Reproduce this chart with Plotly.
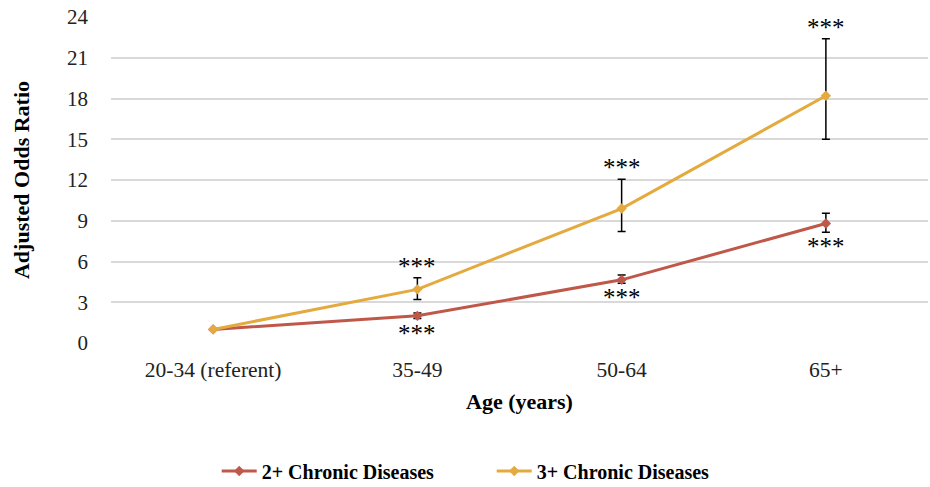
import plotly.graph_objects as go

categories = ["20-34 (referent)", "35-49", "50-64", "65+"]
two_plus = [1.0, 2.0, 4.65, 8.8]
two_plus_hi = [None, 2.2, 5.0, 9.55]
two_plus_lo = [None, 1.8, 4.4, 8.15]
three_plus = [1.0, 3.95, 9.9, 18.2]
three_plus_hi = [None, 4.8, 12.05, 22.4]
three_plus_lo = [None, 3.2, 8.2, 15.0]
sig_labels = ["", "***", "***", "***"]
y_ticks = [0, 3, 6, 9, 12, 15, 18, 21, 24]

RED = "#C0584A"
GOLD = "#E4AA3E"
FONT = "Liberation Serif"

def err(vals, hi, lo):
    plus = [(h - v) if h is not None else 0 for v, h in zip(vals, hi)]
    minus = [(v - l) if l is not None else 0 for v, l in zip(vals, lo)]
    return plus, minus

fig = go.Figure()
for name, vals, hi, lo, col in [
    ("2+ Chronic Diseases", two_plus, two_plus_hi, two_plus_lo, RED),
    ("3+ Chronic Diseases", three_plus, three_plus_hi, three_plus_lo, GOLD),
]:
    plus, minus = err(vals, hi, lo)
    fig.add_trace(go.Scatter(
        x=categories, y=vals, name=name, mode="lines+markers",
        line=dict(color=col, width=3),
        marker=dict(symbol="diamond", size=8, color=col),
        error_y=dict(type="data", symmetric=False, array=plus, arrayminus=minus,
                     color="black", thickness=1.5, width=4),
    ))

# significance stars
for i, c in enumerate(categories):
    if sig_labels[i]:
        fig.add_annotation(x=c, y=three_plus_hi[i], text=sig_labels[i], showarrow=False,
                           yanchor="bottom", yshift=-4,
                           font=dict(family=FONT, size=25, color="black"))
        fig.add_annotation(x=c, y=two_plus_lo[i], text=sig_labels[i], showarrow=False,
                           yanchor="top", yshift=1,
                           font=dict(family=FONT, size=25, color="black"))

fig.update_layout(
    width=930, height=487,
    margin=dict(l=111, r=2, t=17, b=144, autoexpand=False),
    paper_bgcolor="white", plot_bgcolor="white",
    font=dict(family=FONT, size=21, color="#222"),
    showlegend=True,
    legend=dict(orientation="h", x=0.466, xanchor="center", y=-0.333, yanchor="top",
                font=dict(family=FONT, size=20, color="black", weight="bold"),
                entrywidth=225, itemwidth=35),
    xaxis=dict(range=[-0.5, 3.5], showgrid=False, showline=False, ticks="",
               ticklabelstandoff=11, automargin=False,
               title=dict(text="<b>Age (years)</b>", standoff=13,
                          font=dict(family=FONT, size=22, color="black")),
               tickfont=dict(family=FONT, size=21.5, color="#222")),
    yaxis=dict(range=[0, 24], tickvals=y_ticks, showgrid=True, gridcolor="#D9D9D9",
               gridwidth=1.5, zeroline=False, ticks="", ticklabelstandoff=22,
               automargin=False,
               tickfont=dict(family=FONT, size=21, color="#222"),
               title=dict(text="<b>Adjusted Odds Ratio</b>", standoff=31,
                          font=dict(family=FONT, size=22, color="black"))),
)

fig.write_html("out.html")
